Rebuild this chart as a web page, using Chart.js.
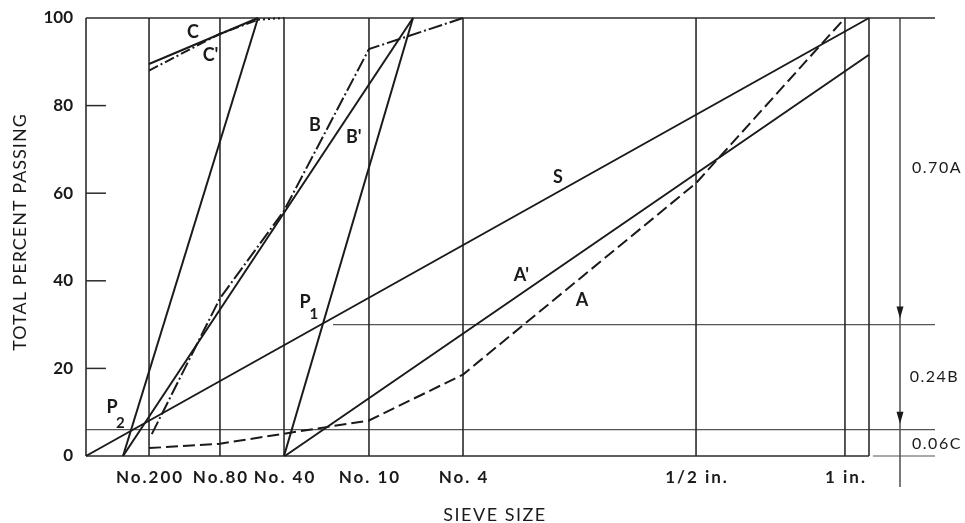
<!DOCTYPE html>
<html>
<head>
<meta charset="utf-8">
<script src="https://cdn.jsdelivr.net/npm/chart.js@4.4.0/dist/chart.umd.min.js"></script>
<style>
  html, body { margin: 0; padding: 0; background: #fff; }
  #wrap { width: 965px; height: 523px; }
</style>
</head>
<body>
<div id="wrap"><canvas id="grading" width="965" height="523"></canvas></div>
<script>
// sieve openings placed along the grading-chart abscissa (chart units, box = 0..100)
var sieveLabels = ['No.200', 'No.80', 'No. 40', 'No. 10', 'No. 4', '1/2 in.', '1 in.'];
var sievePos = [8.05, 17.11, 25.29, 36.14, 48.15, 77.91, 96.93];
var yTicks = [0, 20, 40, 60, 80, 100];

// grading curves, total percent passing
var curveA = [[8.05, 1.8], [17.11, 2.8], [25.29, 5.1], [36.14, 8.1], [48.15, 18.6], [77.91, 62.3], [96.93, 100]];
var curveA2 = [[25.4, 0], [100, 91.6]];
var curveB = [[8.4, 5], [17.11, 36], [25.29, 56], [36.14, 92.9], [48.15, 100]];
var curveB2 = [[4.73, 0], [41.76, 100]];
var curveC = [[8.05, 89.5], [21.97, 100]];
var curveC2 = [[8.05, 88], [17.11, 96.4], [21.97, 99.6], [25.29, 100]];
var curveS = [[0, 0], [100, 100]];
// construction lines through P2 and P1
var lineP2 = [[4.73, 0], [21.97, 100]];
var lineP1 = [[25.29, 0], [41.76, 100]];

// proportions of the blend
var splitLevels = [30, 6];
var splitLabels = ['0.70A', '0.24B', '0.06C'];

var xEnd = 108.43;     // right end of the extended rules
var xScaleLine = 103.96; // position of the dimension line

var INK = '#1a1a1a';

function pts(arr) {
  return arr.map(function (p) { return { x: p[0], y: p[1] }; });
}

function rule(data, width, color) {
  return {
    data: data,
    showLine: true,
    borderColor: color || '#2b2b2b',
    borderWidth: width || 1.5,
    pointRadius: 0,
    fill: false,
    clip: false,
    order: 2
  };
}

function curve(arr, dash) {
  return {
    data: pts(arr),
    showLine: true,
    borderColor: INK,
    borderWidth: 2,
    borderDash: dash || [],
    pointRadius: 0,
    fill: false,
    clip: false,
    order: 1
  };
}

var datasets = [];

// frame and sieve verticals
[0].concat(sievePos).concat([100]).forEach(function (x) {
  datasets.push(rule([{ x: x, y: 0 }, { x: x, y: 100 }], 1.6));
});
datasets.push(rule([{ x: 0, y: 100 }, { x: xEnd, y: 100 }], 1.6));
datasets.push(rule([{ x: 0, y: 0 }, { x: 100, y: 0 }], 1.6));
datasets.push(rule([{ x: 100.5, y: 0 }, { x: xEnd, y: 0 }], 1.2, '#555'));
datasets.push(rule([{ x: 0, y: splitLevels[1] }, { x: xEnd, y: splitLevels[1] }], 1.2, '#555'));
datasets.push(rule([{ x: 31.55, y: splitLevels[0] }, { x: xEnd, y: splitLevels[0] }], 1.2, '#555'));
datasets.push(rule([{ x: xScaleLine, y: 100 }, { x: xScaleLine, y: -7.1 }], 1.3, '#333'));

// short inward tick marks on the percent axis
yTicks.slice(1, -1).forEach(function (y) {
  datasets.push(rule([{ x: 0, y: y }, { x: 2.55, y: y }], 1.5));
});

datasets.push(curve(curveS));
datasets.push(curve(curveA, [12, 5]));
datasets.push(curve(curveA2));
datasets.push(curve(curveB, [14, 3, 2, 3]));
datasets.push(curve(curveB2));
datasets.push(curve(curveC));
var c2 = curve(curveC2, [10, 3, 2, 3]);
c2.segment = {
  borderDash: function (ctx) { return ctx.p1DataIndex === curveC2.length - 1 ? [2, 3] : undefined; }
};
datasets.push(c2);
datasets.push(curve(lineP2));
datasets.push(curve(lineP1));

// text placed in chart units
var curveNotes = [
  { t: 'C', x: 13.67, y: 96.8 },
  { t: "C'", x: 15.9, y: 91.5 },
  { t: 'B', x: 29.25, y: 75.6 },
  { t: "B'", x: 34.2, y: 72.8 },
  { t: 'S', x: 60.28, y: 63.7 },
  { t: "A'", x: 55.6, y: 41.3 },
  { t: 'A', x: 63.35, y: 35.6 }
];

var labelPlugin = {
  id: 'labelPlugin',
  afterDraw: function (chart) {
    var ctx = chart.ctx;
    var xs = chart.scales.x;
    var ys = chart.scales.y;
    var px = function (v) { return xs.getPixelForValue(v); };
    var py = function (v) { return ys.getPixelForValue(v); };

    ctx.save();
    ctx.fillStyle = INK;

    // arrow heads on the dimension line
    splitLevels.forEach(function (lv) {
      var tipY = py(lv) - 6;
      var cx = px(xScaleLine);
      ctx.beginPath();
      ctx.moveTo(cx, tipY);
      ctx.lineTo(cx - 3.5, tipY - 12);
      ctx.lineTo(cx + 3.5, tipY - 12);
      ctx.closePath();
      ctx.fill();
    });

    // percent axis numbers
    ctx.font = 'bold 17px Lato';
    ctx.textAlign = 'right';
    ctx.textBaseline = 'middle';
    yTicks.forEach(function (v) {
      ctx.fillText(String(v), px(-1.66), py(v));
    });

    // sieve names
    ctx.textAlign = 'center';
    ctx.letterSpacing = '2px';
    sieveLabels.forEach(function (lab, i) {
      ctx.fillText(lab, px(sievePos[i]) + 1, py(-4.8));
    });

    // curve names
    ctx.letterSpacing = '0px';
    ctx.font = 'bold 18px Lato';
    curveNotes.forEach(function (n) {
      ctx.fillText(n.t, px(n.x), py(n.y));
    });
    ctx.fillText('P', px(27.97), py(35.2));
    ctx.fillText('P', px(3.32), py(11.2));
    ctx.font = 'bold 15px Lato';
    ctx.fillText('1', px(29.1), py(32.3));
    ctx.fillText('2', px(4.4), py(7.6));

    // blend proportions
    ctx.font = '16px Lato';
    ctx.textAlign = 'left';
    ctx.letterSpacing = '1.5px';
    ctx.fillText(splitLabels[0], px(105.5), py(65.8));
    ctx.fillText(splitLabels[1], px(105.2), py(18.0));
    ctx.fillText(splitLabels[2], px(105.5), py(2.7));

    // axis titles
    ctx.font = '18px Lato';
    ctx.letterSpacing = '1.5px';
    ctx.textAlign = 'center';
    ctx.fillText('SIEVE SIZE', 495, 515);
    ctx.letterSpacing = '1px';
    ctx.translate(20, 232);
    ctx.rotate(-Math.PI / 2);
    ctx.fillText('TOTAL PERCENT PASSING', 0, 0);
    ctx.restore();
  }
};

new Chart(document.getElementById('grading'), {
  type: 'scatter',
  data: { datasets: datasets },
  options: {
    responsive: false,
    animation: false,
    layout: { padding: { left: 86, top: 18, right: 30, bottom: 67 } },
    plugins: { legend: { display: false }, tooltip: { enabled: false } },
    scales: {
      x: { type: 'linear', min: 0, max: xEnd, display: false },
      y: { type: 'linear', min: 0, max: 100, display: false }
    }
  },
  plugins: [labelPlugin]
});
</script>
</body>
</html>
